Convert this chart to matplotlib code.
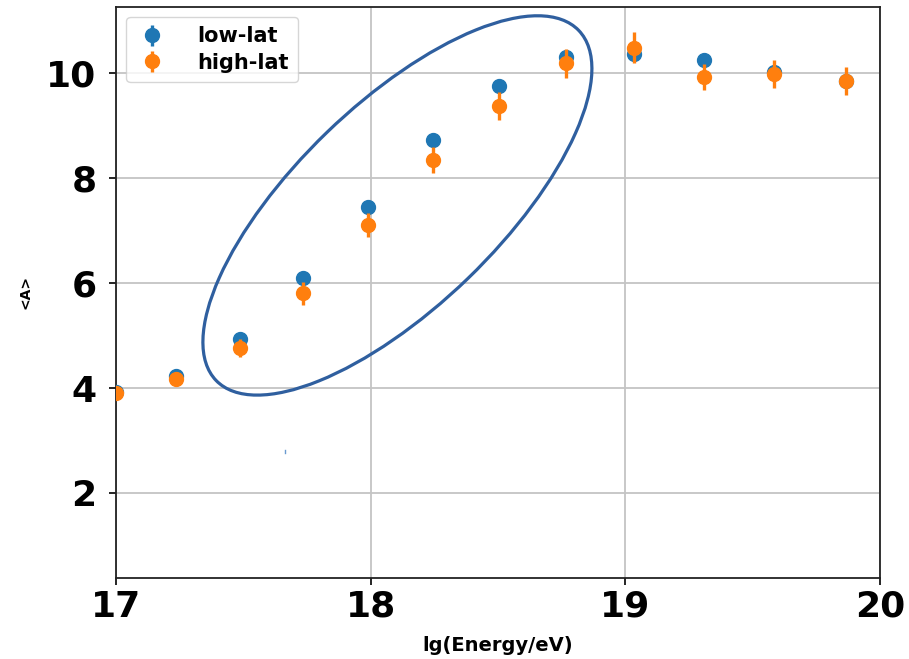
import matplotlib
matplotlib.use("Agg")
import matplotlib.pyplot as plt
import matplotlib.transforms as mtransforms
from matplotlib.patches import Ellipse
from matplotlib.lines import Line2D

# Mean log-mass <A> per energy bin for two latitude bands
energy = [17.00, 17.237, 17.486, 17.733, 17.988, 18.243, 18.504, 18.767,
          19.035, 19.308, 19.583, 19.865]
low_lat = [3.93, 4.23, 4.93, 6.09, 7.45, 8.72, 9.76, 10.31, 10.36, 10.25, 10.03, 9.85]
low_err = [0.06, 0.06, 0.06, 0.07, 0.07, 0.08, 0.08, 0.09, 0.09, 0.10, 0.12, 0.12]
high_lat = [3.91, 4.18, 4.77, 5.81, 7.11, 8.34, 9.37, 10.19, 10.49, 9.93, 9.99, 9.85]
high_err = [0.10, 0.12, 0.17, 0.22, 0.23, 0.25, 0.27, 0.28, 0.29, 0.25, 0.27, 0.27]

xticks = [17, 18, 19, 20]
yticks = [2, 4, 6, 8, 10]

fig = plt.figure(figsize=(9.09, 6.59), dpi=100)
ax = fig.add_axes([0.1276, 0.123, 0.8405, 0.867])

ax.errorbar(energy, low_lat, yerr=low_err, fmt="o", color="#1f77b4",
            ms=10, elinewidth=2.4, label="low-lat", zorder=3)
ax.errorbar(energy, high_lat, yerr=high_err, fmt="o", color="#ff7f0e",
            ms=10, elinewidth=2.4, label="high-lat", zorder=4)

ax.set_xlim(17, 20)
ax.set_ylim(0.38, 11.27)
ax.set_xticks(xticks)
ax.set_yticks(yticks)
ax.tick_params(axis="both", labelsize=26, length=5, width=1.2)
ax.tick_params(axis="y", pad=9)
for lab in ax.get_xticklabels() + ax.get_yticklabels():
    lab.set_fontweight("bold")

ax.grid(True, color="#c4c4c4", linewidth=1.3)
ax.set_axisbelow(True)
for sp in ax.spines.values():
    sp.set_linewidth(1.3)
    sp.set_color("#222222")

ax.set_xlabel("lg(Energy/eV)", fontsize=14, fontweight="bold", labelpad=9)
ax.set_ylabel("<A>", fontsize=10, fontweight="bold", labelpad=10)

leg = ax.legend(loc="upper left", prop={"weight": "bold", "size": 15},
                handlelength=1.6, handletextpad=1.35, borderpad=0.45,
                labelspacing=0.3)

# Highlight ellipse around the rising part of the curve
anchor = mtransforms.ScaledTranslation(18.105, 7.48, ax.transData)
ring = Ellipse((0, 0), 5.04, 2.03, angle=44, fill=False,
               edgecolor="#2f5f9f", linewidth=2.3,
               transform=fig.dpi_scale_trans + anchor, zorder=5, clip_on=False)
ax.add_patch(ring)

fig.add_artist(Line2D([0.3135, 0.3135], [0.3125, 0.3175], transform=fig.transFigure,
                      color="#6a9ad0", linewidth=1.0))

fig.savefig("out.png", dpi=100)
